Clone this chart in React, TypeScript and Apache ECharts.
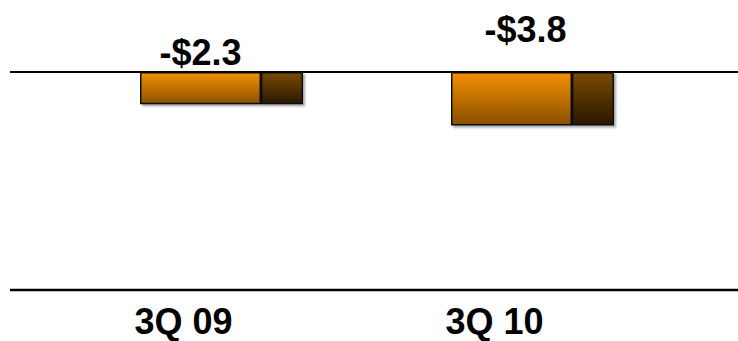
import React, { useEffect, useRef } from "react";
import * as echarts from "echarts";

const categories = ["3Q 09", "3Q 10"];
const mainValues = [-2.3, -3.8];
const sideValues = [-2.3, -3.8];
const valueLabels = ["-$2.3", "-$3.8"];
const yMin = -15.5;
const yMax = 0;

export default function App() {
  const ref = useRef<HTMLDivElement>(null);
  useEffect(() => {
    if (!ref.current) return;
    document.body.style.margin = "0";
    const chart = echarts.init(ref.current, null, { renderer: "svg" });
    const font = "'Liberation Sans', Arial, sans-serif";
    const orange = new echarts.graphic.LinearGradient(0, 0, 0, 1, [
      { offset: 0, color: "#F39000" },
      { offset: 1, color: "#8A5000" },
    ]);
    const brown = new echarts.graphic.LinearGradient(0, 0, 0, 1, [
      { offset: 0, color: "#7A4A04" },
      { offset: 1, color: "#2A1804" },
    ]);
    const labelOffsets = [
      [0, 3],
      [14, -20],
    ];
    chart.setOption({
      animation: false,
      grid: { left: 66, right: 50, top: 72, bottom: 51 },
      xAxis: {
        type: "category",
        data: categories,
        axisLine: { show: false },
        axisTick: { show: false },
        axisLabel: {
          margin: 14,
          color: "#000",
          fontFamily: font,
          fontWeight: "bold",
          fontSize: 36,
          lineHeight: 34,
          padding: [0, 76, 0, 0],
        },
      },
      yAxis: {
        type: "value",
        min: yMin,
        max: yMax,
        show: false,
        splitLine: { show: false },
      },
      series: [
        {
          type: "bar",
          barWidth: 121,
          barGap: "0%",
          data: mainValues.map((v, i) => ({
            value: v,
            label: {
              show: true,
              position: "top",
              offset: labelOffsets[i],
              formatter: () => valueLabels[i],
              color: "#000",
              fontFamily: font,
              fontWeight: "bold",
              fontSize: 36,
            },
          })),
          itemStyle: {
            color: orange,
            borderColor: "#111",
            borderWidth: 1.5,
            shadowColor: "rgba(0,0,0,0.35)",
            shadowOffsetX: 2,
            shadowOffsetY: 2,
            shadowBlur: 2,
          },
        },
        {
          type: "bar",
          barWidth: 42,
          barGap: "0%",
          data: sideValues,
          itemStyle: {
            color: brown,
            borderColor: "#111",
            borderWidth: 1.5,
            shadowColor: "rgba(0,0,0,0.35)",
            shadowOffsetX: 2,
            shadowOffsetY: 2,
            shadowBlur: 2,
          },
        },
      ],
    });
    const zeroY = chart.convertToPixel({ yAxisIndex: 0 }, 0) as number;
    const minY = chart.convertToPixel({ yAxisIndex: 0 }, yMin) as number;
    chart.setOption({
      graphic: [
        {
          type: "line",
          shape: { x1: 10, y1: zeroY, x2: 738, y2: zeroY },
          style: { stroke: "#000", lineWidth: 2 },
          z: 10,
        },
        {
          type: "line",
          shape: { x1: 10, y1: minY, x2: 738, y2: minY },
          style: { stroke: "#000", lineWidth: 2.5 },
          z: 10,
        },
      ],
    });
    return () => chart.dispose();
  }, []);
  return <div ref={ref} style={{ width: 738, height: 341 }} />;
}
